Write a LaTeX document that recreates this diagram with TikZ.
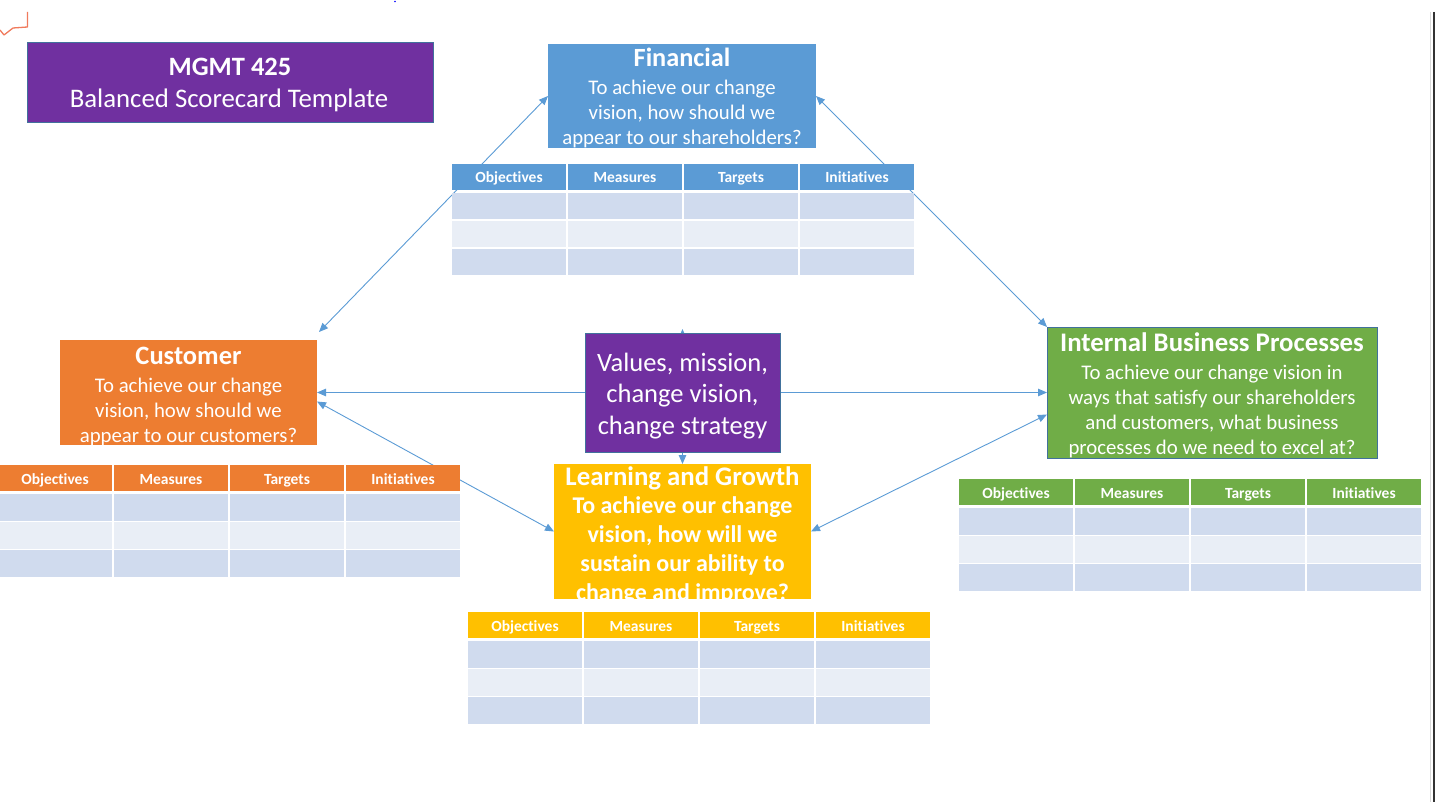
\documentclass[tikz,border=0pt]{standalone}
\usepackage{fontspec}
\setmainfont{Carlito}[Ligatures=NoCommon]
\usetikzlibrary{arrows.meta}
\pgfdeclarelayer{bg}
\pgfsetlayers{bg,main}
\definecolor{bscpurple}{HTML}{7030A0}
\definecolor{bscblue}{HTML}{5B9BD5}
\definecolor{bscorange}{HTML}{ED7D31}
\definecolor{bscgold}{HTML}{FFC000}
\definecolor{bscgreen}{HTML}{70AD47}
\definecolor{bscborder}{HTML}{41719C}
\definecolor{rowA}{HTML}{D0DBEE}
\definecolor{rowB}{HTML}{E9EEF6}
\definecolor{linkblue}{HTML}{5B9BD5}
\definecolor{squiggle}{HTML}{F07A5C}
\tikzset{
  box/.style={rectangle, inner sep=0pt, outer sep=0pt, anchor=north west},
  txt/.style={inner sep=0pt, outer sep=0pt, text=white, anchor=base},
  hdr/.style={rectangle, inner sep=0pt, outer sep=0pt, minimum width=114pt, minimum height=26pt,
    text height=13pt, text depth=1pt,
    anchor=north west, text=white, font=\bfseries\fontsize{15.5}{18}\selectfont},
  cell/.style={rectangle, inner sep=0pt, outer sep=0pt, minimum width=114pt, minimum height=26.5pt, anchor=north west},
  link/.style={draw=linkblue, line width=0.9pt,
    {Triangle[length=9pt,width=7.5pt]}-{Triangle[length=9pt,width=7.5pt]}},
}
\newcommand{\bsctable}[4]{%
  \foreach \lab [count=\i from 0] in {Objectives,Measures,Targets,Initiatives}{%
    \node[hdr, fill=#4] (#1-h\i) at ({#2+116*\i},#3) {\lab};
    \node[cell, fill=rowA] (#1-a\i) at ({#2+116*\i},{#3+29}) {};
    \node[cell, fill=rowB] (#1-b\i) at ({#2+116*\i},{#3+57}) {};
    \node[cell, fill=rowA] (#1-c\i) at ({#2+116*\i},{#3+85}) {};
  }}
\newcommand{\boxlines}[6]{%
  \foreach \t [count=\i] in {#6}{%
    \node[txt, font=#5] (#1-l\i) at (#2,{#3+#4*(\i-1)}) {\t};
  }}
\begin{document}
\begin{tikzpicture}[x=1pt,y=-1pt]
\useasboundingbox (0,0) rectangle (1435,802);

% artefacts
\draw[squiggle, line width=1.3pt, line join=round] (27.5,12) -- (27.5,27) -- (13,28) -- (4,35) -- (0,30);
\fill[blue] (395,1.5) circle (0.8);
\draw[black!15, line width=1.5pt] (1430.5,12) -- (1430.5,802);
\draw[black!80, line width=1.5pt] (1434,12) -- (1434,802);

% boxes
\node[box, fill=bscpurple, draw=bscborder, line width=0.8pt, minimum width=406pt, minimum height=80pt] (title) at (27,42) {};
\node[box, fill=bscblue, minimum width=268pt, minimum height=104pt] (fin) at (548,44) {};
\node[box, fill=bscorange, minimum width=257pt, minimum height=105pt] (cust) at (60,340) {};
\node[box, fill=bscpurple, draw=bscborder, line width=0.8pt, minimum width=195pt, minimum height=119pt] (val) at (585,333) {};
\node[box, fill=bscgold, minimum width=257pt, minimum height=135pt] (lg) at (554,464) {};
\node[box, fill=bscgreen, draw=bscborder, line width=0.8pt, minimum width=330pt, minimum height=131pt] (intl) at (1047,327) {};

% texts
\node[txt, font=\bfseries\fontsize{26.5}{31}\selectfont] (title-l1) at (230,76) {MGMT 425};
\node[txt, font=\fontsize{26.8}{31}\selectfont] (title-l2) at (229,108) {Balanced Scorecard Template};

\begin{scope}
\clip (fin.north west) rectangle (fin.south east);
\node[txt, font=\bfseries\fontsize{26.3}{30}\selectfont] (fin-t) at (682,67) {Financial};
\boxlines{fin}{682}{95}{25}{\fontsize{20.8}{25}\selectfont}{{To achieve our change},{vision, how should we},{appear to our shareholders?}}
\end{scope}

\begin{scope}
\clip (cust.north west) rectangle (cust.south east);
\node[txt, font=\bfseries\fontsize{26.5}{30}\selectfont] (cust-t) at (188.5,364) {Customer};
\boxlines{cust}{188.5}{392}{25}{\fontsize{20.8}{25}\selectfont}{{To achieve our change},{vision, how should we},{appear to our customers?}}
\end{scope}

\boxlines{val}{682.5}{371}{31.5}{\fontsize{26.5}{32}\selectfont}{{Values, mission,},{change vision,},{change strategy}}

\begin{scope}
\clip (lg.north west) rectangle (lg.south east);
\node[txt, font=\bfseries\fontsize{26.8}{30}\selectfont] (lg-t) at (682.5,485) {Learning and Growth};
\boxlines{lg}{682.5}{513}{29}{\bfseries\fontsize{24}{29}\selectfont}{{To achieve our change},{vision, how will we},{sustain our ability to},{change and improve?}}
\end{scope}

\begin{scope}
\clip (intl.north west) rectangle (intl.south east);
\node[txt, font=\bfseries\fontsize{26.8}{30}\selectfont] (intl-t) at (1212,352) {Internal Business Processes};
\boxlines{intl}{1212}{379}{25}{\fontsize{20.8}{25}\selectfont}{{To achieve our change vision in},{ways that satisfy our shareholders},{and customers, what business},{processes do we need to excel at?}}
\end{scope}

% tables
\bsctable{ft}{452}{164}{bscblue}
\bsctable{ct}{-2}{465}{bscorange}
\bsctable{lt}{468}{612}{bscgold}
\bsctable{it}{959}{479}{bscgreen}

% connectors (behind boxes and tables)
\begin{pgfonlayer}{bg}
\draw[link] ([shift={(2pt,8pt)}]cust.north east) -- (fin.west);
\draw[link] (fin.east) -- (intl.north west);
\draw[link] (cust.east) -- (intl.west);
\draw[link] ([yshift=-9pt]cust.east) -- (lg.west);
\draw[link] ([yshift=-22pt]intl.west) -- (lg.east);
\draw[link] (lg.north) -- ([yshift=4pt]val.north);
\end{pgfonlayer}
\end{tikzpicture}
\end{document}
